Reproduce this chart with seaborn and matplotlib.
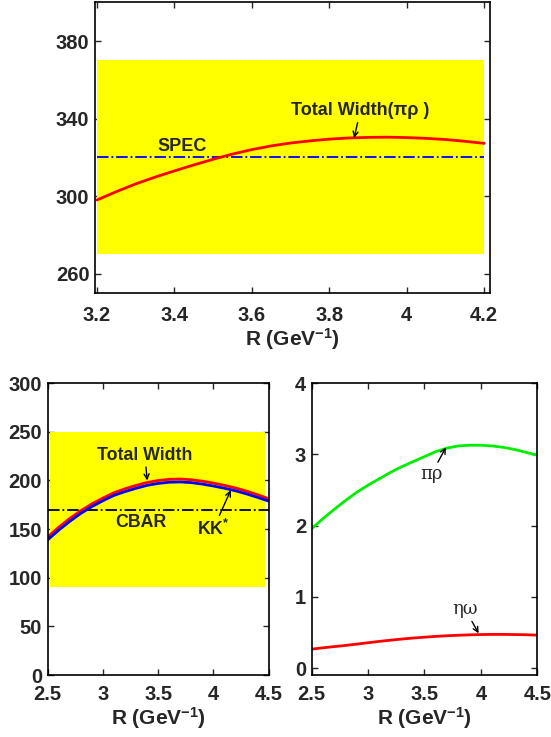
import numpy as np
import matplotlib
matplotlib.use('Agg')
import matplotlib.pyplot as plt
import seaborn as sns

# top panel: total width (pi rho) vs R
r_top = [3.2, 3.25, 3.3, 3.35, 3.4, 3.45, 3.5, 3.55, 3.6, 3.65, 3.7,
         3.75, 3.8, 3.85, 3.9, 3.95, 4.0, 4.05, 4.1, 4.15, 4.2]
width_top = [298.0, 302.3, 306.3, 309.8, 313.0, 316.1, 319.0, 321.7, 324.0, 325.9, 327.4,
             328.5, 329.4, 330.0, 330.3, 330.4, 330.2, 329.8, 329.2, 328.3, 327.2]
spec_value = 320
spec_band = [270, 370]

# bottom panels: R grid
r_bot = [2.5, 2.6, 2.7, 2.8, 2.9, 3.0, 3.1, 3.2, 3.3, 3.4, 3.5,
         3.6, 3.7, 3.8, 3.9, 4.0, 4.1, 4.2, 4.3, 4.4, 4.5]
# bottom left: total width and KK* width
width_total = [142.0, 152.0, 161.0, 169.0, 176.0, 182.0, 187.5, 191.5, 195.0, 198.0, 200.0,
               201.2, 201.5, 200.8, 199.3, 197.3, 195.0, 192.3, 189.0, 185.3, 181.3]
width_kkstar = [139.0, 149.0, 158.0, 166.2, 173.2, 179.2, 184.7, 188.6, 192.0, 195.0, 197.0,
                198.2, 198.5, 197.8, 196.3, 194.3, 192.0, 189.4, 186.2, 182.6, 178.8]
cbar_value = 170
cbar_band = [90, 250]

# bottom right: partial widths
width_pirho = [1.96, 2.10, 2.23, 2.355, 2.47, 2.57, 2.66, 2.75, 2.83, 2.90, 2.97,
               3.04, 3.09, 3.12, 3.13, 3.13, 3.12, 3.10, 3.07, 3.03, 2.99]
width_etaomega = [0.268, 0.287, 0.304, 0.32, 0.339, 0.358, 0.377, 0.394, 0.41, 0.424, 0.436,
                  0.447, 0.456, 0.463, 0.469, 0.473, 0.475, 0.475, 0.473, 0.47, 0.465]

sns.set_style('white')
plt.rcParams['font.family'] = ['Liberation Sans', 'DejaVu Sans']
plt.rcParams['font.weight'] = 'bold'
plt.rcParams['mathtext.fontset'] = 'custom'
plt.rcParams['mathtext.rm'] = 'Liberation Sans:bold'
plt.rcParams['mathtext.it'] = 'Liberation Sans:bold'
plt.rcParams['mathtext.bf'] = 'Liberation Sans:bold'
plt.rcParams['mathtext.default'] = 'rm'

xlabel = r'R (GeV$^{-1}$)'
arrow = dict(arrowstyle='->', color='k', lw=1.0, mutation_scale=9,
             shrinkA=0, shrinkB=0)


def style(ax, pad=7):
    for s in ax.spines.values():
        s.set_visible(True)
        s.set_color('k')
        s.set_linewidth(1.2)
    ax.tick_params(direction='in', length=4, width=1, top=True, right=True,
                   bottom=True, left=True, labelsize=14.5)
    ax.tick_params(axis='x', pad=pad)
    ax.tick_params(axis='y', pad=4)
    for lab in ax.get_xticklabels() + ax.get_yticklabels():
        lab.set_fontweight('bold')
    ax.set_xlabel(xlabel, fontsize=15, fontweight='bold', labelpad=1)
    ax.set_ylabel('')


fig = plt.figure(figsize=(5.51, 7.37), dpi=100)

# ---- top panel
ax1 = fig.add_axes([0.1724, 0.6024, 0.717, 0.3945])
ax1.fill_between([3.2, 4.2], spec_band[0], spec_band[1], color='yellow', lw=0)
ax1.plot([3.2, 4.2], [spec_value] * 2, color='blue', ls='-.', lw=1.3)
sns.lineplot(x=r_top, y=width_top, ax=ax1, color='red', lw=2)
ax1.set_xlim(3.195, 4.215)
ax1.set_ylim(250, 400)
ax1.set_xticks([3.2, 3.4, 3.6, 3.8, 4.0, 4.2])
ax1.set_xticklabels(['3.2', '3.4', '3.6', '3.8', '4', '4.2'])
ax1.set_yticks([260, 300, 340, 380])
ax1.text(3.355, 325.5, 'SPEC', fontsize=13, fontweight='bold', va='center')
ax1.annotate('Total Width(πρ )', xy=(3.864, 330), xytext=(3.88, 344),
             fontsize=13, fontweight='bold', ha='center', va='center',
             arrowprops=arrow)
style(ax1, pad=9)

# ---- bottom left
ax2 = fig.add_axes([0.0866, 0.0841, 0.4011, 0.3959])
ax2.fill_between([2.52, 4.47], cbar_band[0], cbar_band[1], color='yellow', lw=0)
ax2.plot([2.5, 4.5], [cbar_value] * 2, color='k', ls='-.', lw=1.3)
sns.lineplot(x=r_bot, y=width_total, ax=ax2, color='red', lw=2)
sns.lineplot(x=r_bot, y=width_kkstar, ax=ax2, color='blue', lw=2)
ax2.set_xlim(2.5, 4.5)
ax2.set_ylim(0, 300)
ax2.set_xticks([2.5, 3, 3.5, 4, 4.5])
ax2.set_xticklabels(['2.5', '3', '3.5', '4', '4.5'])
ax2.set_yticks(np.arange(0, 301, 50))
ax2.annotate('Total Width', xy=(3.40, 200), xytext=(3.38, 226),
             fontsize=12.8, fontweight='bold', ha='center', va='center',
             arrowprops=arrow)
ax2.text(3.11, 157, 'CBAR', fontsize=12.8, fontweight='bold', va='center')
ax2.annotate(r'KK$^{*}$', xy=(4.156, 190), xytext=(4.0, 140),
             fontsize=12.8, fontweight='bold', ha='center', va='bottom',
             arrowprops=arrow)
style(ax2)

# ---- bottom right
ax3 = fig.add_axes([0.5657, 0.0841, 0.4094, 0.3959])
sns.lineplot(x=r_bot, y=width_pirho, ax=ax3, color='#00ee00', lw=2)
sns.lineplot(x=r_bot, y=width_etaomega, ax=ax3, color='red', lw=2)
ax3.set_xlim(2.5, 4.5)
ax3.set_ylim(-0.095, 4)
ax3.set_xticks([2.5, 3, 3.5, 4, 4.5])
ax3.set_xticklabels(['2.5', '3', '3.5', '4', '4.5'])
ax3.set_yticks([0, 1, 2, 3, 4])
ax3.annotate('πρ', xy=(3.69, 3.10), xytext=(3.56, 2.72),
             fontsize=13, fontweight='normal', family=['DejaVu Serif'],
             ha='center', va='center', arrowprops=arrow)
ax3.annotate('ηω', xy=(3.98, 0.49), xytext=(3.86, 0.83),
             fontsize=13, fontweight='normal', family=['DejaVu Serif'],
             ha='center', va='center', arrowprops=arrow)
style(ax3)

fig.savefig('out.png', dpi=100)
